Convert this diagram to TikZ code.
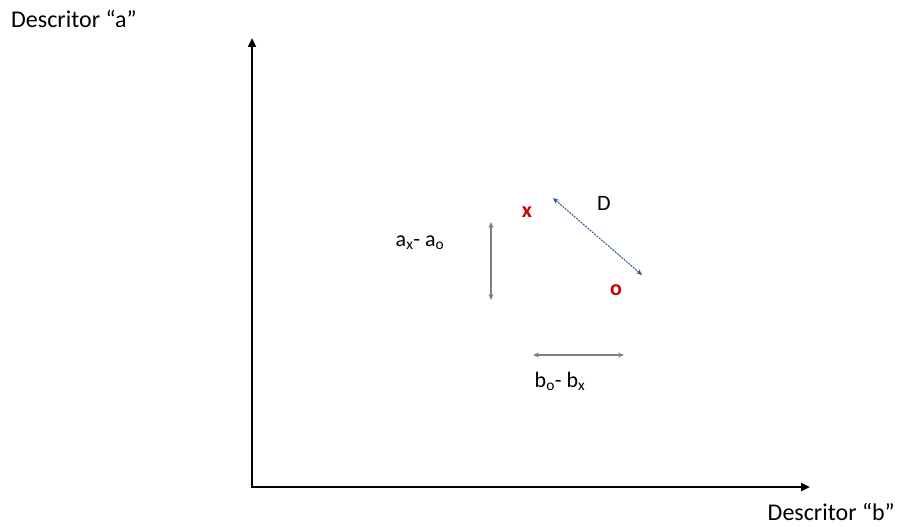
\documentclass[tikz,border=0pt]{standalone}
\usepackage{fontspec}
\setmainfont{Carlito}
\usetikzlibrary{arrows.meta,positioning,calc}

\begin{document}
\begin{tikzpicture}[x=1pt,y=-1pt,every node/.style={font=\fontsize{22}{26}\selectfont,inner sep=0pt},
 ax/.style={line width=2.6pt,-{Triangle[length=9pt,width=8pt]}},
 axlab/.style={font=\fontsize{24}{28}\selectfont},
 dif/.style={draw=gray,line width=1.3pt,{Stealth[length=6pt,width=5pt]}-{Stealth[length=6pt,width=5pt]}},
 pt/.style={text=red!80!black,font=\fontsize{22}{26}\selectfont\bfseries}]
\useasboundingbox (0,0) rectangle (907,527);
% eixos
\coordinate (orig) at (252,487);
\coordinate (ytop) at (252,38);
\coordinate (xend) at (810,487);
\draw[ax] (orig) -- (ytop);
\draw[ax] ($(orig)+(-1.3,0)$) -- (xend);
\node[axlab,anchor=west] (ylab) at (11,19) {Descritor “a”};
\node[axlab,anchor=base east] (xlab) at (895,520) {Descritor “b”};
% pontos
\node[pt] (ptx) at (527,212) {x};
\node[pt] (pto) at (616,290) {o};
% distancia
\coordinate (d1) at (553,198);
\coordinate (d2) at (642,275);
\draw[draw={rgb,255:red,47;green,85;blue,151},line width=1pt,dash pattern=on 2pt off 1pt,
 {Stealth[length=6pt,width=5pt,fill={rgb,255:red,47;green,85;blue,151}]}-{Stealth[length=6pt,width=5pt]}] (d1) -- (d2);
\node (dlab) at (604,203) {D};
% diferencas
\coordinate (a1) at (491,222);
\coordinate (a2) at (491,300);
\draw[dif] (a1) -- (a2);
\node (alab) at (420,243) {a\textsubscript{x}- a\textsubscript{o}};
\coordinate (b1) at (533,355);
\coordinate (b2) at (624,355);
\draw[dif] (b1) -- (b2);
\node (blab) at (560,381) {b\textsubscript{o}- b\textsubscript{x}};
\end{tikzpicture}
\end{document}
